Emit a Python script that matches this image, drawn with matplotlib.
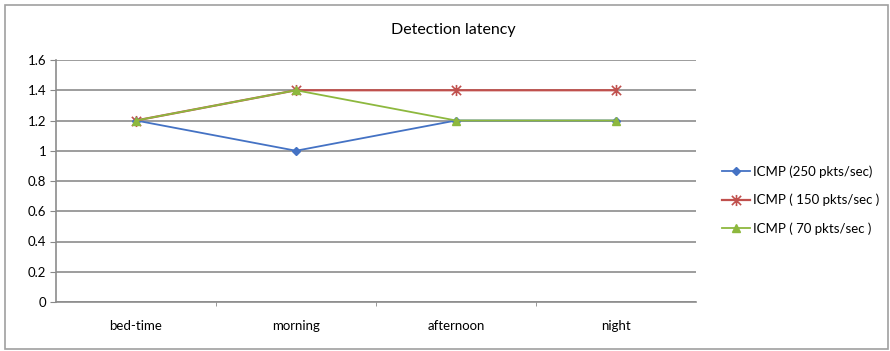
import matplotlib
matplotlib.use("Agg")
import matplotlib.pyplot as plt
from matplotlib.patches import Rectangle
from matplotlib.path import Path

categories = ["bed-time", "morning", "afternoon", "night"]
icmp_250 = [1.2, 1.0, 1.2, 1.2]
icmp_150 = [1.2, 1.4, 1.4, 1.4]
icmp_70 = [1.2, 1.4, 1.2, 1.2]
labels = ["ICMP (250 pkts/sec)", "ICMP ( 150 pkts/sec )", "ICMP ( 70 pkts/sec )"]
yticks = [0, 0.2, 0.4, 0.6, 0.8, 1, 1.2, 1.4, 1.6]
ytick_labels = ["0", "0.2", "0.4", "0.6", "0.8", "1", "1.2", "1.4", "1.6"]

plt.rcParams['font.family'] = ['Lato', 'DejaVu Sans']

star = Path([(-1, -1), (1, 1), (-1, 1), (1, -1), (0, -1.2), (0, 1.2)],
            [Path.MOVETO, Path.LINETO, Path.MOVETO, Path.LINETO, Path.MOVETO, Path.LINETO])

fig = plt.figure(figsize=(8.9, 3.51), dpi=100)
fig.patches.append(Rectangle((5/890, 2/351), 883/890, 344/351, transform=fig.transFigure,
                             fill=False, edgecolor="#a0a0a0", linewidth=1.2))
ax = fig.add_axes([56/890, 1-302/351, 640/890, 242/351])

x = list(range(len(categories)))
ax.plot(x, icmp_250, color="#4472C4", marker="D", markersize=4, linewidth=1.3, label=labels[0])
ax.plot(x, icmp_150, color="#C0504D", marker=star, markersize=8, markeredgewidth=1.2,
        markerfacecolor="none", linewidth=1.6, label=labels[1])
ax.plot(x, icmp_70, color="#8DB83E", marker="^", markersize=6, linewidth=1.3, label=labels[2])

ax.set_xlim(-0.5, 3.5)
ax.set_ylim(0, 1.6)
ax.set_yticks(yticks)
ax.set_yticklabels(ytick_labels, fontsize=9.5)
ax.set_xticks(x)
ax.set_xticklabels(categories, fontsize=9.5)
ax.set_xticks([0.5, 1.5, 2.5], minor=True)
ax.tick_params(axis='x', which='major', length=0, pad=13)
ax.tick_params(axis='x', which='minor', length=3, color="#888888", direction='out')
ax.tick_params(axis='y', length=4, color="#888888", direction='out', pad=3)
ax.grid(axis='y', color="#8c8c8c", linewidth=1.2)
ax.set_axisbelow(True)
for s in ["top", "right"]:
    ax.spines[s].set_visible(False)
ax.spines["left"].set_color("#8c8c8c")
ax.spines["left"].set_linewidth(1.2)
ax.spines["bottom"].set_color("#8c8c8c")
ax.spines["bottom"].set_linewidth(1.2)

fig.text(453/890, 1-30/351, "Detection latency", ha="center", va="center", fontsize=11.5)

ax.legend(loc="center left", bbox_to_anchor=(710/890, 1-200/351), bbox_transform=fig.transFigure,
          frameon=False, fontsize=9.5, handlelength=2.1, handletextpad=0.25, labelspacing=1.2)

fig.savefig("out.png", dpi=100)
